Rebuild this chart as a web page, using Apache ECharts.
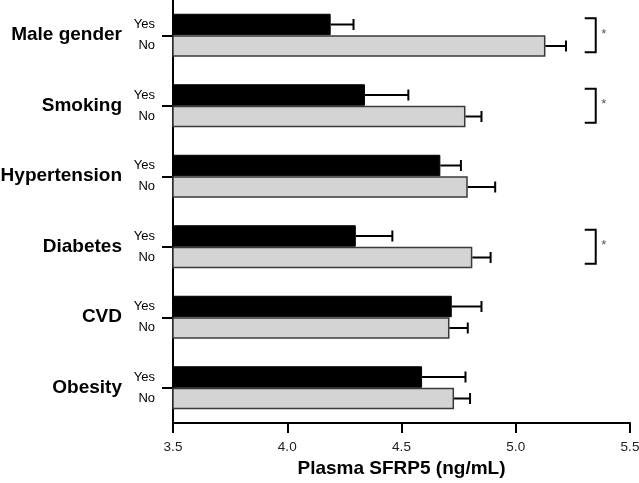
<!DOCTYPE html>
<html>
<head>
<meta charset="utf-8">
<script src="https://cdn.jsdelivr.net/npm/echarts@6/dist/echarts.min.js"></script>
<style>html,body{margin:0;padding:0;background:#fff;}#c{width:639px;height:483px;}</style>
</head>
<body>
<div id="c"></div>
<script>
const categories = ['Male gender', 'Smoking', 'Hypertension', 'Diabetes', 'CVD', 'Obesity'];
const yesMean = [4.19, 4.34, 4.67, 4.30, 4.72, 4.59];
const yesErr  = [0.10, 0.19, 0.09, 0.16, 0.13, 0.19];
const noMean  = [5.13, 4.78, 4.79, 4.81, 4.71, 4.73];
const noErr   = [0.09, 0.07, 0.12, 0.08, 0.08, 0.07];
const significant = ['Male gender', 'Smoking', 'Diabetes'];
const bracketX = 5.35;
const xTicks = [3.5, 4.0, 4.5, 5.0, 5.5];

const BAR_W = 21.5;
const FONT = 'Liberation Sans, Arial, sans-serif';

const errData = [];
categories.forEach((c, i) => {
  errData.push([i, yesMean[i], yesErr[i], 0]);
  errData.push([i, noMean[i], noErr[i], 1]);
});
const bracketData = significant.map(c => [categories.indexOf(c), bracketX]);

const chart = echarts.init(document.getElementById('c'), null, {renderer: 'canvas'});
chart.setOption({
  animation: false,
  backgroundColor: '#fff',
  grid: {left: 173, right: 9, top: 0, bottom: 60, containLabel: false, outerBoundsMode: 'none'},
  xAxis: {
    type: 'value', min: xTicks[0], max: xTicks[xTicks.length - 1], interval: 0.5,
    axisLine: {show: true, onZero: false, lineStyle: {color: '#000', width: 2}},
    axisTick: {show: true, length: 10, lineStyle: {color: '#000', width: 2}},
    splitLine: {show: false},
    axisLabel: {margin: 17, fontSize: 13.5, color: '#222', fontFamily: FONT,
      formatter: v => v.toFixed(1)},
    name: 'Plasma SFRP5 (ng/mL)', nameLocation: 'middle', nameGap: 36,
    nameTextStyle: {fontSize: 19, fontWeight: 'bold', color: '#000', fontFamily: FONT}
  },
  yAxis: [{
    type: 'category', data: categories, inverse: true,
    axisLine: {show: true, lineStyle: {color: '#000', width: 2}},
    axisTick: {show: true, alignWithLabel: true, length: 11, lineStyle: {color: '#000', width: 2}},
    axisLabel: {margin: 51, fontSize: 19, fontWeight: 'bold', color: '#000', fontFamily: FONT, interval: 0}
  }, {
    type: 'category', data: categories, inverse: true, position: 'left', offset: 0,
    axisLine: {show: false}, axisTick: {show: false},
    axisLabel: {margin: 18, fontSize: 13, color: '#000', fontFamily: FONT, interval: 0,
      lineHeight: 21, formatter: () => 'Yes\nNo'}
  }],
  series: [{
    name: 'Yes', type: 'bar', data: yesMean, barWidth: BAR_W, barGap: '0%',
    itemStyle: {color: '#000', borderColor: '#000', borderWidth: 1}
  }, {
    name: 'No', type: 'bar', data: noMean, barWidth: BAR_W, barGap: '0%',
    itemStyle: {color: '#d4d4d4', borderColor: '#3a3a3a', borderWidth: 1.5}
  }, {
    type: 'custom', data: errData, encode: {x: [1, 2], y: 0}, z: 5,
    renderItem: function (params, api) {
      const cat = api.value(0), v = api.value(1), e = api.value(2), which = api.value(3);
      const p0 = api.coord([v, cat]);
      const p1 = api.coord([v + e, cat]);
      const dy = which === 0 ? -BAR_W / 2 : BAR_W / 2;
      const y = p0[1] + dy;
      const st = {stroke: '#000', lineWidth: 2};
      return {type: 'group', children: [
        {type: 'line', shape: {x1: p0[0], y1: y, x2: p1[0], y2: y}, style: st},
        {type: 'line', shape: {x1: p1[0], y1: y - 5.5, x2: p1[0], y2: y + 5.5}, style: st}
      ]};
    }
  }, {
    type: 'custom', data: bracketData, encode: {x: 1, y: 0}, z: 5,
    renderItem: function (params, api) {
      const p = api.coord([api.value(1), api.value(0)]);
      const x = p[0], cy = p[1];
      return {type: 'group', children: [
        {type: 'polyline', shape: {points: [[x - 11, cy - 17], [x, cy - 17], [x, cy + 17], [x - 11, cy + 17]]},
          style: {stroke: '#000', lineWidth: 2, fill: null}},
        {type: 'text', x: x + 8, y: cy - 1, style: {text: '*', fontSize: 13, fill: '#555',
          fontFamily: FONT, align: 'center', verticalAlign: 'middle'}}
      ]};
    }
  }]
});
</script>
</body>
</html>
